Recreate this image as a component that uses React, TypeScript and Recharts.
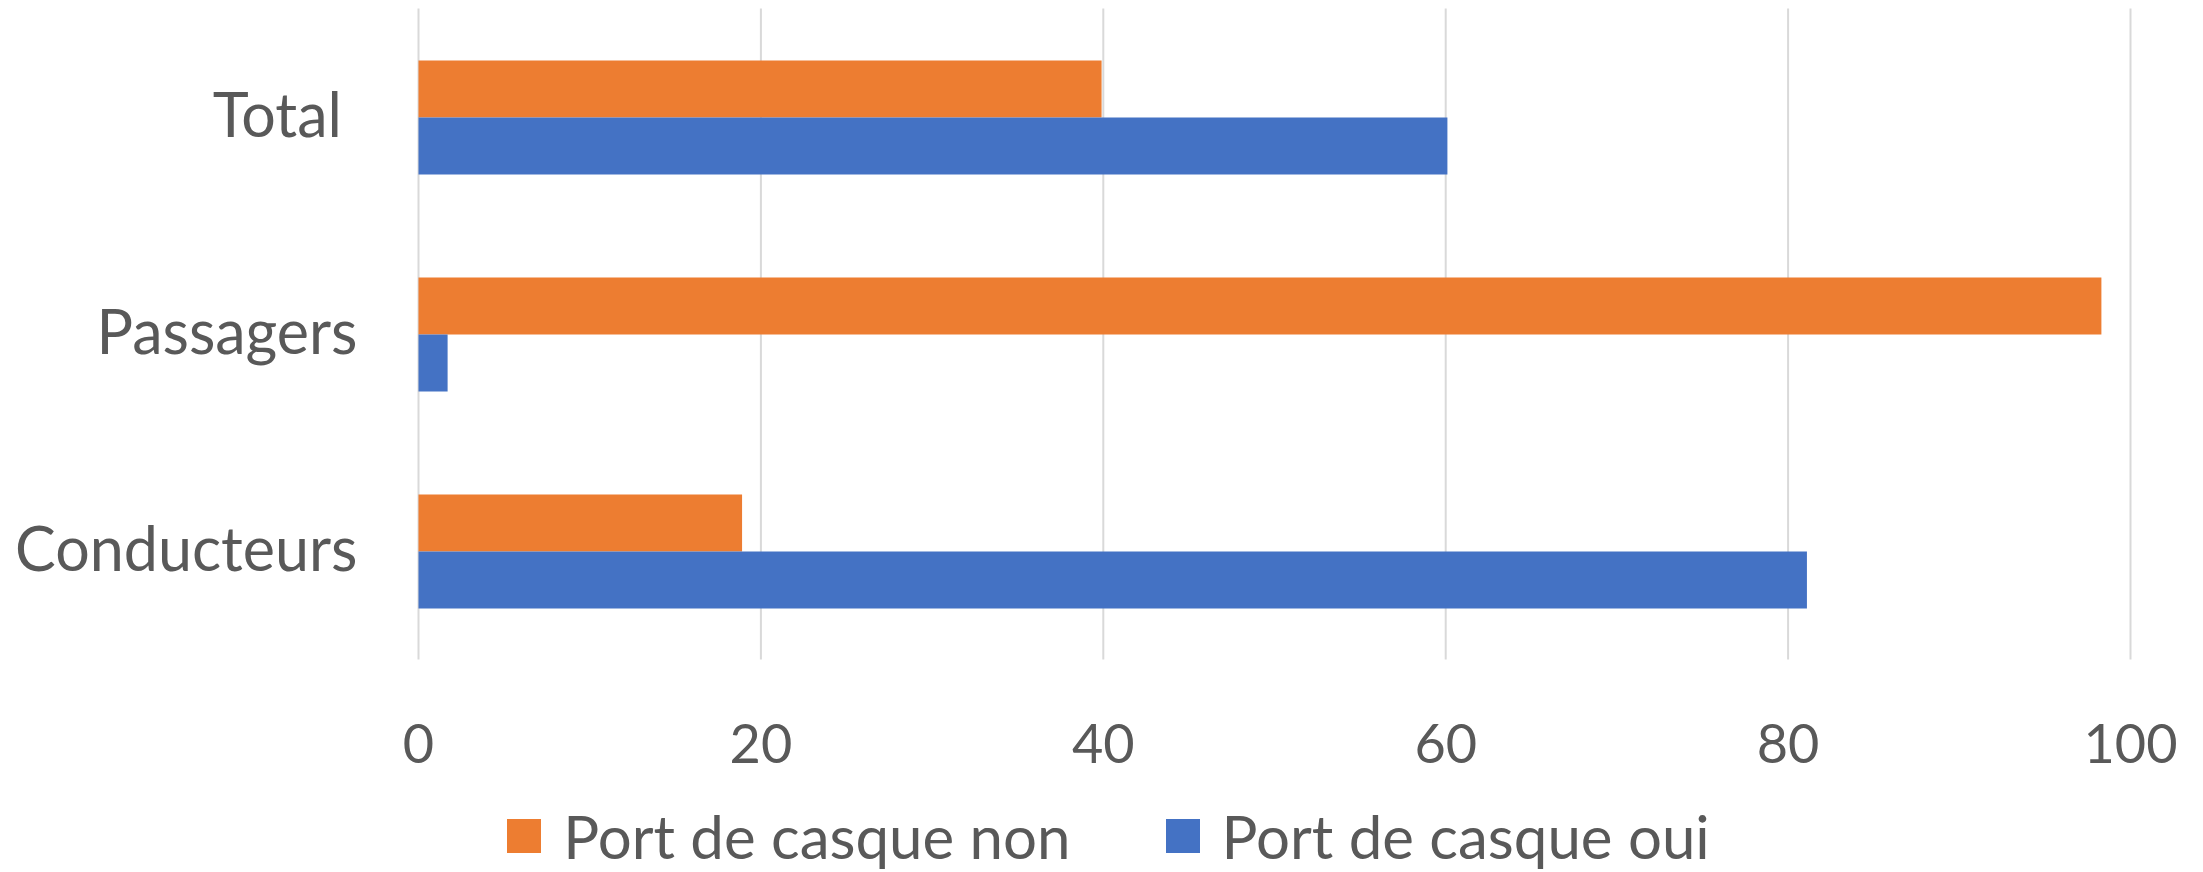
import { BarChart, Bar, XAxis, YAxis, CartesianGrid, Legend } from 'recharts'

const CATEGORIES = ['Total ', 'Passagers', 'Conducteurs']
const CASQUE_NON = [39.9, 98.3, 18.9]
const CASQUE_OUI = [60.1, 1.7, 81.1]
const X_TICKS = [0, 20, 40, 60, 80, 100]

const SERIES = [
  { key: 'non', name: 'Port de casque non', color: '#ED7D31' },
  { key: 'oui', name: 'Port de casque oui', color: '#4472C4' },
]

const data = CATEGORIES.map((cat, i) => ({
  cat,
  non: CASQUE_NON[i],
  oui: CASQUE_OUI[i],
}))

const FONT = 'Lato, "Open Sans", sans-serif'
const TEXT = '#595959'

function CategoryTick({ x, y, payload }: any) {
  return (
    <text
      x={x - 53}
      y={y + 20}
      textAnchor="end"
      fill={TEXT}
      fontSize={61}
      fontFamily={FONT}
      style={{ whiteSpace: 'pre' }}
    >
      {payload.value}
    </text>
  )
}

function ValueTick({ x, y, payload }: any) {
  return (
    <text x={x} y={y + 95} textAnchor="middle" fill={TEXT} fontSize={54} fontFamily={FONT}>
      {payload.value}
    </text>
  )
}

function LegendContent() {
  return (
    <div
      style={{
        display: 'flex',
        justifyContent: 'center',
        alignItems: 'center',
        paddingLeft: 14,
        fontFamily: FONT,
        fontSize: 60,
        color: TEXT,
        lineHeight: '60px',
      }}
    >
      {SERIES.map((s, i) => (
        <div key={s.key} style={{ display: 'flex', alignItems: 'center', marginLeft: i ? 95 : 0 }}>
          <div style={{ width: 34, height: 34, background: s.color, marginRight: 22 }} />
          <span>{s.name}</span>
        </div>
      ))}
    </div>
  )
}

export default function App() {
  return (
    <div style={{ width: 2203, height: 872, background: '#fff' }}>
      <style>{'body{margin:0}'}</style>
      <BarChart
        width={2203}
        height={872}
        data={data}
        layout="vertical"
        margin={{ top: 8.5, right: 72.5, bottom: 0, left: 0 }}
        barSize={57}
        barGap={0}
      >
        <CartesianGrid horizontal={false} stroke="#d9d9d9" strokeWidth={2} />
        <XAxis
          type="number"
          domain={[0, 100]}
          ticks={X_TICKS}
          height={212.5}
          axisLine={false}
          tickLine={false}
          tick={<ValueTick />}
          interval={0}
        />
        <YAxis
          type="category"
          dataKey="cat"
          width={418.5}
          axisLine={false}
          tickLine={false}
          tick={<CategoryTick />}
        />
        <Legend
          layout="horizontal"
          verticalAlign="middle"
          align="center"
          wrapperStyle={{ top: 806, left: 0, width: 2203, height: 66 }}
          content={<LegendContent />}
        />
        {SERIES.map((s) => (
          <Bar key={s.key} dataKey={s.key} name={s.name} fill={s.color} isAnimationActive={false} />
        ))}
      </BarChart>
    </div>
  )
}
